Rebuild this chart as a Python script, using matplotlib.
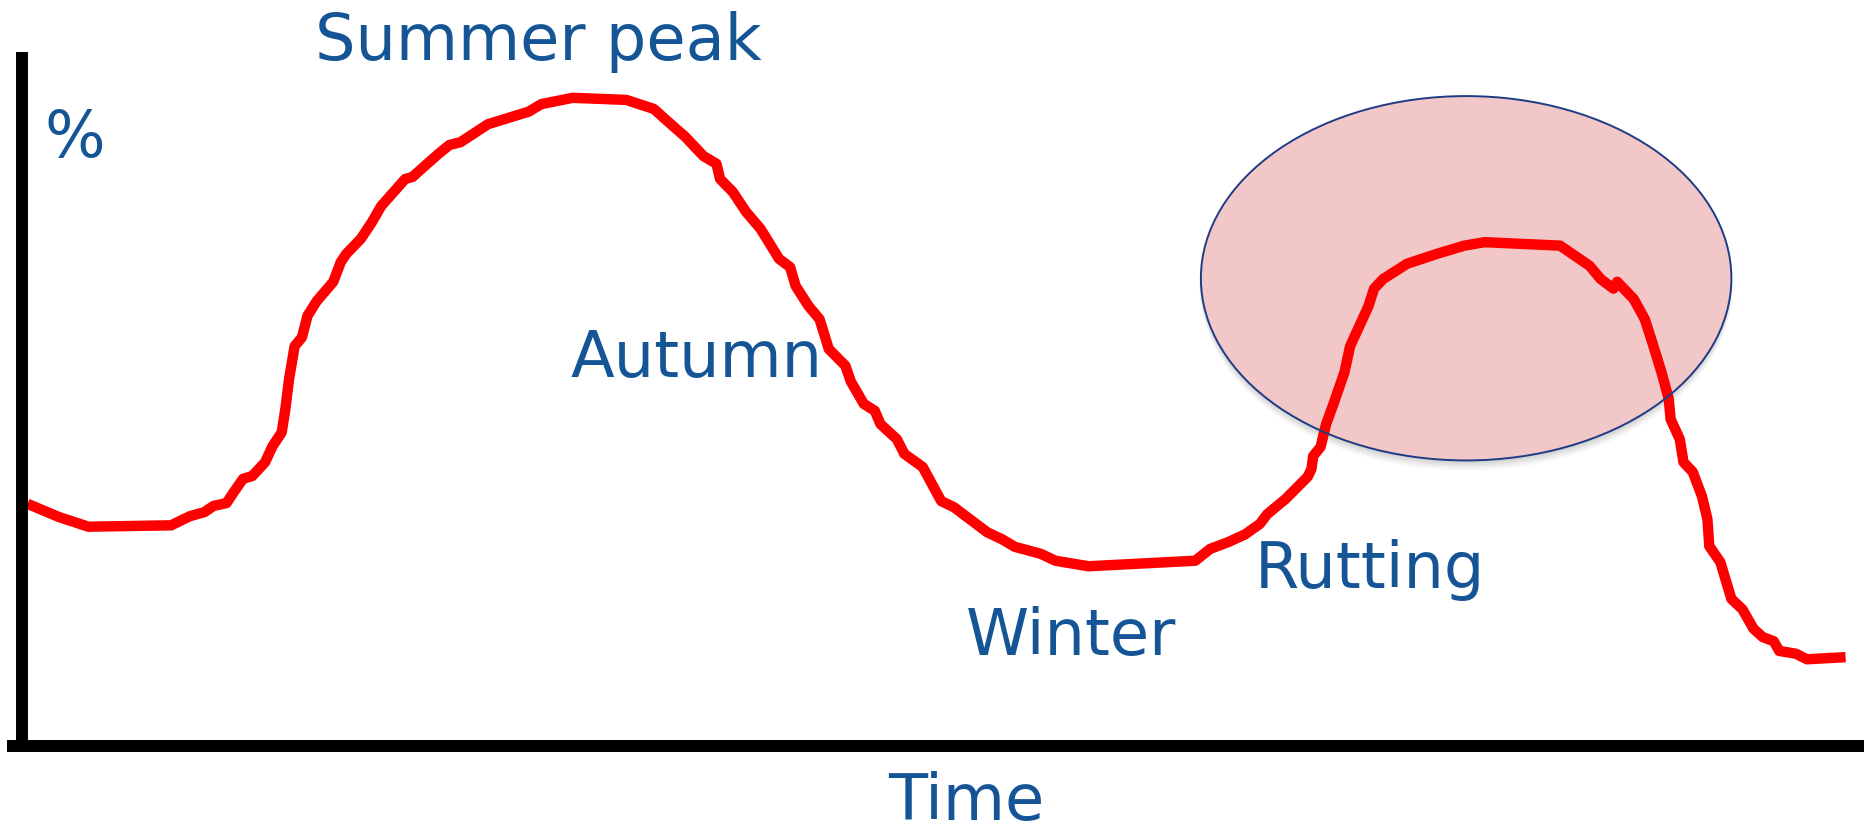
"""Seasonal activity curve sketch: summer peak, autumn decline, winter low, rutting bump."""

import matplotlib
matplotlib.use("Agg")
import matplotlib.pyplot as plt
from matplotlib.patches import Ellipse

# Curve: time on a 0-100 scale, level in %
TIME = [
    0.3, 2.0, 3.6, 8.1, 9.1, 9.9, 10.4, 11.1, 11.5, 12.0, 12.5, 13.2, 13.6, 14.1,
    14.3, 14.5, 14.8, 15.2, 15.5, 16.0, 16.9, 17.3, 17.6, 18.4, 19.0, 19.5, 20.8,
    21.2, 22.0, 22.6, 23.2, 23.8, 25.3, 27.5, 28.2, 29.9, 32.8, 34.3, 35.1, 36.0,
    37.0, 37.7, 37.9, 38.6, 39.3, 40.1, 41.1, 41.7, 42.0, 42.7, 43.3, 43.8, 44.7,
    45.0, 45.7, 46.3, 46.6, 47.5, 47.9, 48.9, 49.9, 50.6, 52.4, 53.2, 53.9, 55.3,
    56.1, 57.9, 63.7, 64.5, 65.5, 66.4, 67.2, 67.6, 68.6, 69.8, 70.0, 70.1, 70.5,
    70.8, 71.2, 71.8, 72.1, 72.6, 73.1, 73.4, 73.9, 75.2, 76.8, 78.3, 79.4, 83.5,
    85.1, 85.7, 86.4, 86.6, 87.5, 88.1, 88.5, 89.0, 89.4, 89.5, 90.0, 90.2, 90.7,
    91.2, 91.5, 91.6, 92.2, 92.8, 93.4, 94.0, 94.5, 95.1, 95.4, 96.3, 96.9, 99.0,
]
LEVEL = [
    34.9, 33.0, 31.6, 31.8, 33.1, 33.7, 34.6, 35.0, 36.6, 38.5, 38.9, 40.9, 43.2, 45.2,
    48.6, 52.9, 57.6, 58.9, 62.0, 64.1, 66.9, 69.7, 70.9, 73.1, 75.5, 77.8, 81.7,
    82.0, 83.9, 85.3, 86.6, 87.0, 89.6, 91.4, 92.5, 93.4, 93.1, 91.8, 89.9, 87.8,
    85.0, 83.9, 81.7, 79.8, 77.0, 74.5, 70.2, 69.0, 66.3, 63.4, 61.5, 57.2, 54.8,
    52.5, 49.3, 48.3, 46.4, 44.2, 42.1, 40.2, 35.3, 34.4, 30.8, 29.8, 28.7, 27.7,
    26.7, 25.9, 26.7, 28.4, 29.4, 30.5, 32.0, 33.4, 35.6, 38.8, 39.9, 41.8, 43.1,
    46.4, 49.3, 53.9, 57.6, 60.5, 63.4, 65.9, 67.3, 69.5, 70.9, 72.1, 72.6, 72.1,
    69.2, 67.3, 65.9, 66.9, 64.4, 61.5, 58.2, 53.9, 50.0, 47.1, 44.2, 40.9, 39.5,
    36.0, 32.7, 28.8, 26.5, 21.2, 19.7, 16.9, 15.7, 15.1, 13.7, 13.3, 12.5, 12.8,
]

# Labels: (text, time, level) at the left/baseline of each word
LABELS = [
    ("Summer peak", 15.9, 99.0),
    ("%", 1.2, 85.0),
    ("Autumn", 29.8, 53.3),
    ("Winter", 51.25, 13.3),
    ("Rutting", 66.9, 22.9),
    ("Time", 47.0, -10.5),
]

# Highlighted rutting period
RUT_CENTER = (78.4, 67.4)
RUT_WIDTH = 28.8
RUT_HEIGHT = 52.5

TEXT_COLOR = "#155596"
CURVE_COLOR = "#ff0000"

fig = plt.figure(figsize=(18.64, 8.28), dpi=100)
ax = fig.add_axes([0, 0, 1, 1])
ax.set_xlim(-1.194, 100)
ax.set_ylim(-11.67, 107.64)

# soft shadow under the ellipse
for i, a in enumerate([0.05, 0.05, 0.04, 0.03]):
    ax.add_patch(Ellipse((RUT_CENTER[0], RUT_CENTER[1] - 0.4 - 0.25 * i),
                         RUT_WIDTH + 0.05 * i, RUT_HEIGHT + 0.2 * i,
                         facecolor="black", edgecolor="none", alpha=a, zorder=1))
ax.add_patch(Ellipse(RUT_CENTER, RUT_WIDTH, RUT_HEIGHT,
                     facecolor="#f2c7c7", edgecolor="none", zorder=2))

ax.plot(TIME, LEVEL, color=CURVE_COLOR, linewidth=7.5,
        solid_joinstyle="round", solid_capstyle="butt", zorder=3)

ax.add_patch(Ellipse(RUT_CENTER, RUT_WIDTH, RUT_HEIGHT,
                     facecolor="none", edgecolor="#1f3b85", linewidth=1.4, zorder=4))

for text, t, lv in LABELS:
    ax.text(t, lv, text, fontsize=46, color=TEXT_COLOR, ha="left", va="baseline",
            family="DejaVu Sans", zorder=5)

# axes drawn as thick black strokes
for side in ["top", "right"]:
    ax.spines[side].set_visible(False)
ax.spines["left"].set_position(("data", 0))
ax.spines["left"].set_bounds(0, 100)
ax.spines["bottom"].set_position(("data", 0))
ax.spines["bottom"].set_bounds(-0.81, 100)
for side in ["left", "bottom"]:
    ax.spines[side].set_linewidth(8.6)
    ax.spines[side].set_capstyle("butt")
    ax.spines[side].set_zorder(6)
ax.set_xticks([])
ax.set_yticks([])
ax.patch.set_visible(False)

fig.savefig("out.png", dpi=100, facecolor="white")
